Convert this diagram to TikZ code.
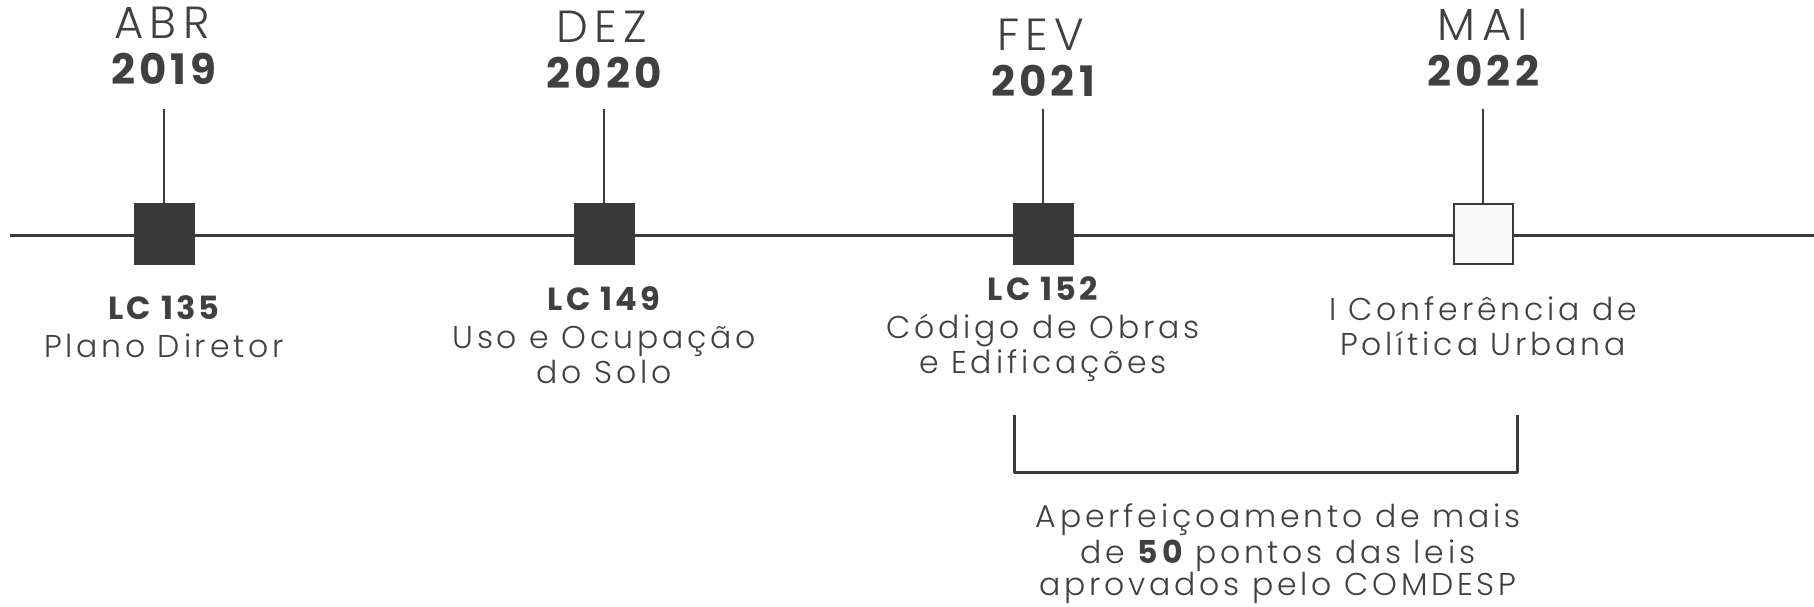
\documentclass[tikz,border=0pt]{standalone}
\usepackage{fontspec}
\setmainfont{Poppins}[UprightFont=* Light, BoldFont=* Bold]
\definecolor{ink}{RGB}{58,58,58}
\definecolor{txt}{RGB}{64,64,64}
\definecolor{paper}{RGB}{250,250,250}
\begin{document}
\begin{tikzpicture}[x=1pt,y=-1pt,
  sq/.style={draw=ink, fill=ink, minimum width=59pt, minimum height=60pt, inner sep=0pt, line width=2pt},
  sqo/.style={sq, fill=paper},
  datelbl/.style={anchor=base, inner sep=0pt, text=txt, font=\fontsize{45}{45}\selectfont\addfontfeatures{LetterSpace=14}},
  yearlbl/.style={anchor=base, inner sep=0pt, text=txt, font=\fontsize{42}{42}\selectfont\bfseries\addfontfeatures{LetterSpace=10}},
  lbl/.style={anchor=base, inner sep=0pt, text=txt, font=\fontsize{31.5}{31.5}\selectfont\addfontfeatures{LetterSpace=12}},
  lclbl/.style={anchor=base, inner sep=0pt, text=txt, font=\fontsize{32}{32}\selectfont\bfseries\addfontfeatures{LetterSpace=10}},
  stem/.style={draw=ink, line width=2pt},
  axisline/.style={draw=ink, line width=3pt},
  brack/.style={draw=ink, line width=3pt, line join=round}
]
\useasboundingbox (0,0) rectangle (1814,607);
% axis
\coordinate (aL) at (10,235);
\coordinate (aR) at (1814,235);
\draw[axisline] (aL) -- (aR);
% squares
\node[sq]  (s1) at (164,234) {};
\node[sq]  (s2) at (604,234) {};
\node[sq]  (s3) at (1043,234) {};
\node[sqo] (s4) at (1483,234) {};
% stems
\coordinate (t1) at (164,109);
\coordinate (t2) at (604,109);
\coordinate (t3) at (1043,109);
\coordinate (t4) at (1483,109);
\draw[stem] (s1.north) -- (t1);
\draw[stem] (s2.north) -- (t2);
\draw[stem] (s3.north) -- (t3);
\draw[stem] (s4.north) -- (t4);
% dates
\node[datelbl] (d1) at (162,39) {ABR};
\node[yearlbl] (y1) at (164,85) {2019};
\node[datelbl] (d2) at (602,43) {DEZ};
\node[yearlbl] (y2) at (604,89) {2020};
\node[datelbl] (d3) at (1041,51) {FEV};
\node[yearlbl] (y3) at (1043,97) {2021};
\node[datelbl] (d4) at (1483,41) {MAI};
\node[yearlbl] (y4) at (1483,87) {2022};
% labels
\node[lclbl] (l1a) at (164,319) {LC 135};
\node[lbl]   (l1b) at (164,357) {Plano Diretor};
\node[lclbl] (l2a) at (604,310) {LC 149};
\node[lbl]   (l2b) at (604,348) {Uso e Ocupação};
\node[lbl]   (l2c) at (604,383) {do Solo};
\node[lclbl] (l3a) at (1043,300) {LC 152};
\node[lbl]   (l3b) at (1043,338) {Código de Obras};
\node[lbl]   (l3c) at (1043,373) {e Edificações};
\node[lbl]   (l4a) at (1483,320) {I Conferência de};
\node[lbl]   (l4b) at (1483,355) {Política Urbana};
% bracket
\coordinate (bl) at (1014,415);
\coordinate (br) at (1517,415);
\draw[brack] (bl) -- (1014,472) -- (1517,472) -- (br);
\node[lbl] (b1) at (1278,527) {Aperfeiçoamento de mais};
\node[lbl] (b2) at (1278,563) {de {\bfseries 50} pontos das leis};
\node[lbl] (b3) at (1278,595) {aprovados pelo COMDESP};
\end{tikzpicture}
\end{document}
